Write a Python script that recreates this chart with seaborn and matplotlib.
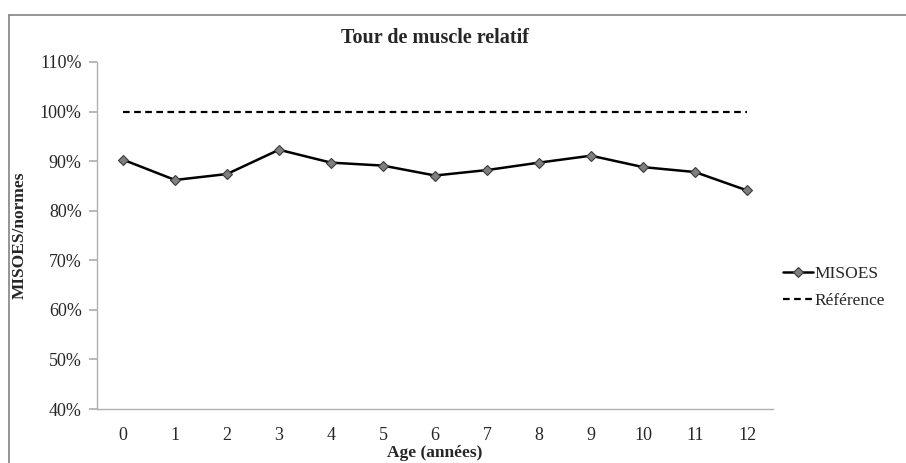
import matplotlib
matplotlib.use("Agg")
import matplotlib.pyplot as plt
import pandas as pd
import seaborn as sns
from matplotlib.lines import Line2D
from matplotlib.ticker import PercentFormatter

ages = list(range(13))
misoes = [90.3, 86.2, 87.4, 92.3, 89.7, 89.1, 87.1, 88.2, 89.7, 91.1, 88.8, 87.8, 84.1]
reference = [100] * 13

df = pd.DataFrame({"age": ages, "MISOES": misoes, "Référence": reference})

sns.set_theme(style="white")
plt.rcParams["font.family"] = ["Liberation Serif", "DejaVu Serif"]

W, H = 906, 463
fig = plt.figure(figsize=(W / 100, H / 100), dpi=100)
ax = fig.add_axes([97 / W, 1 - 409 / H, (773 - 97) / W, (409 - 62) / H])

sns.lineplot(data=df, x="age", y="MISOES", ax=ax, color="black", linewidth=1.8,
             marker="D", markersize=5.5, markerfacecolor="#7f7f7f",
             markeredgecolor="#3a3a3a", markeredgewidth=0.8, label="MISOES")
sns.lineplot(data=df, x="age", y="Référence", ax=ax, color="black", linewidth=1.6,
             linestyle=(0, (3, 2)), label="Référence")

ax.set_xlim(-0.5, 12.5)
ax.set_ylim(40, 110)
ax.set_yticks(range(40, 111, 10))
ax.yaxis.set_major_formatter(PercentFormatter(decimals=0))
ax.set_xticks(ages)
ax.set_xticks([a + 0.5 for a in [-1] + ages], minor=True)
ax.tick_params(axis="x", which="major", length=0, labelsize=13, pad=13)
ax.tick_params(axis="x", which="minor", length=5, color="#b0b0b0", direction="out")
ax.tick_params(axis="y", length=6, color="#b0b0b0", direction="out", labelsize=13,
               left=True, pad=5)

for side in ["top", "right"]:
    ax.spines[side].set_visible(False)
for side in ["left", "bottom"]:
    ax.spines[side].set_color("#b0b0b0")
    ax.spines[side].set_linewidth(1)

ax.set_title("Tour de muscle relatif", fontsize=14.5, fontweight="bold", pad=14)
ax.set_xlabel("Age (années)", fontsize=12.5, fontweight="bold", labelpad=1)
ax.set_ylabel("MISOES/normes", fontsize=12.5, fontweight="bold", labelpad=9)

ax.legend(loc="center left", bbox_to_anchor=(1.0, 0.35), frameon=False, fontsize=12.5,
          handlelength=1.7, handletextpad=0.1, labelspacing=0.6, borderaxespad=0.2)

# chart frame (only top and left edges visible in the crop)
fx, fy = 8.5 / W, 1 - 14.5 / H
fig.add_artist(Line2D([fx, 1], [fy, fy], transform=fig.transFigure,
                      color="#8c8c8c", linewidth=1.3))
fig.add_artist(Line2D([fx, fx], [0, fy], transform=fig.transFigure,
                      color="#8c8c8c", linewidth=1.3))

fig.savefig("out.png", dpi=100)
